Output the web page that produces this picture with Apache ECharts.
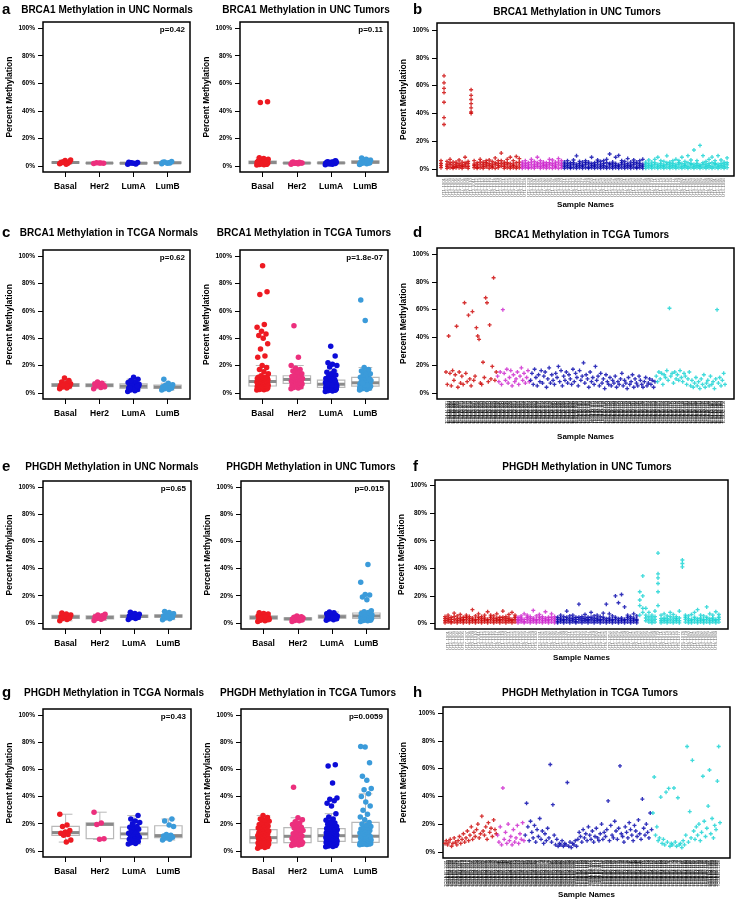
<!DOCTYPE html>
<html><head><meta charset="utf-8">
<script src="https://cdn.jsdelivr.net/npm/echarts@6/dist/echarts.min.js"></script>
<style>html,body{margin:0;padding:0;background:#fff}#c{width:738px;height:903px}</style>
</head><body><div id="c"></div>
<script>
const groups = ['Basal','Her2','LumA','LumB'];
const yTicks = [0,20,40,60,80,100];

// ---- a: BRCA1 UNC Normals
const aN_basal = [1.5,2.0,2.4,3.0,3.8,2.2,1.8,2.8,4.2,1.2,2.6];
const aN_her2  = [1.6,2.0,2.3,1.8,2.1];
const aN_lumA  = [1.2,1.6,2.0,2.4,1.8,2.6,1.4,2.2];
const aN_lumB  = [1.5,2.2,2.8,3.2,1.8,2.5,2.0];
// ---- a: BRCA1 UNC Tumors
const aT_basal = [0.5,0.8,1.0,1.2,1.4,1.5,1.6,1.8,2.0,2.1,2.2,2.3,2.4,2.5,2.7,2.9,3.1,3.3,3.5,3.8,4.2,4.8,5.3,5.8,1.1,1.7,2.6,3.0,46.0,46.6];
const aT_her2  = [1.2,1.5,1.8,2.0,2.2,2.4,2.6,1.9,2.1,1.6,2.8];
const aT_lumA  = [0.8,1.2,1.5,1.7,1.9,2.0,2.2,2.4,2.6,2.8,3.0,3.3,1.4,1.8,2.1,2.5,3.6];
const aT_lumB  = [1.0,1.5,1.8,2.0,2.3,2.6,3.0,3.4,4.0,4.8,5.6,2.2,2.8,1.3,3.8];
// ---- c: BRCA1 TCGA Normals
const cN_basal = [3.0,3.5,4.2,4.8,5.2,5.5,5.8,6.2,6.6,7.0,8.0,9.0,10.8,4.5,5.0,6.0];
const cN_her2  = [3.0,4.0,5.0,5.5,6.0,6.5,7.0,8.0,4.5];
const cN_lumA  = [1.0,1.5,2.0,2.5,3.0,3.5,4.0,4.5,5.0,5.5,6.0,6.5,7.0,7.5,8.0,9.0,10.0,11.5,3.2,4.2,5.2,6.2,2.8,3.8,4.8];
const cN_lumB  = [2.0,2.5,3.0,3.5,4.0,4.5,5.0,5.5,6.0,7.0,10.0,3.8];
// ---- c: BRCA1 TCGA Tumors
const cT_basal = [2,2.2,2.5,2.8,3,3.2,3.4,3.6,3.8,4,4.1,4.2,4.4,4.5,4.6,4.7,4.8,4.9,
  5,5.2,5.4,5.6,5.8,6,6.2,6.4,6.6,6.8,7,7.2,7.4,7.6,7.8,8,8,8.1,8.3,8.5,8.7,8.9,9.1,9.3,9.5,9.7,9.9,10.1,10.3,10.5,10.7,10.9,11,11.2,11.4,11.5,
  12.5,14,15.5,17,18.5,20,26,27,32,36,40,42,43,45,48,50,72,74,93];
const cT_her2  = [3,3.5,4,4.5,5,5.5,6,6.2,6.5,7,7.2,7.5,8,8.5,8.8,9,9.2,9.5,9.8,10,10.2,10.5,10.8,11,11.2,11.5,12,12.5,13,14,15,16,17,18,20,26,49];
const cT_lumA  = [1,1.3,1.6,1.9,2.1,2.3,2.5,2.7,2.9,3.1,3.3,3.5,3.7,3.8,3.9,
  4,4.2,4.4,4.6,4.8,5,5.2,5.4,5.6,5.8,6,6,6.2,6.4,6.6,6.8,7,7.2,7.4,7.6,7.8,8,8.2,8.4,8.6,8.8,9,4.5,5.5,6.5,
  9.5,10,10.5,11,12,13,14,15,16,19,20,21,22,27,34];
const cT_lumB  = [2,2.5,3,3.3,3.6,3.9,4.2,4.5,4.8,5.1,5.4,5.7,6,6.3,6.6,6.9,7.2,7.5,7.8,8.1,8.5,9,9.5,10,10.5,11,11.5,12,13,14,15,16,17,18.5,3.8,5.5,7,9.8,53,68];
// ---- e: PHGDH UNC Normals
const eN_basal = [1.5,2.5,3.2,3.8,4.2,4.5,4.8,5.2,5.8,6.5,7.2,3.5];
const eN_her2  = [1.8,2.6,3.2,3.8,4.2,4.6,5.2,5.8,6.4,3.0];
const eN_lumA  = [2.5,3.2,3.8,4.2,4.6,5.0,5.4,5.8,6.4,7.0,7.8,4.0,4.8];
const eN_lumB  = [2.4,3.0,3.6,4.2,4.6,5.0,5.4,6.0,6.8,7.6,8.4,4.4,5.2];
// ---- e: PHGDH UNC Tumors
const eT_basal = [1,1.5,2,2.3,2.6,2.9,3.2,3.5,3.8,4.1,4.4,4.7,5,5.3,5.6,6,6.5,7,7.5,3,4,2.5,4.6,3.6];
const eT_her2  = [1,1.5,1.8,2.1,2.4,2.7,3,3.3,3.6,3.9,4.2,4.5,5,2.8,3.4];
const eT_lumA  = [2,2.4,2.8,3.2,3.6,4,4.3,4.6,4.9,5.2,5.5,5.8,6.2,6.8,7.4,8,3,4.5,5,3.8];
const eT_lumB  = [1,1.5,1.8,2,2.2,2.5,2.8,3,3.2,3.4,3.6,3.8,4,4.2,4.4,4.6,4.8,5,5.2,5.4,5.6,5.8,6,6.2,6.4,6.6,7,7.6,8.2,9,17,19,20.5,21,30,43];
// ---- g: PHGDH TCGA Normals
const gN_basal = [27,19,18,15,14,13,12,11.5,8,6.5];
const gN_her2  = [28.5,20.6,19.5,9,8.5];
const gN_lumA  = [5,5.5,6,7,8,8.5,9,9.5,10,11,11.5,12,12.5,13,14,15,16,17,17.5,18,20,21,22,23.5,26];
const gN_lumB  = [8,8.5,9.5,10,10.5,11,11.5,12,18,19,22,23.5];
// ---- g: PHGDH TCGA Tumors
const gT_basal = [2,2.5,3,3.3,3.6,4,4.3,4.6,4.9,5.1,5.3,5.5,5.7,5.8,5.9,
  6,6.3,6.6,6.9,7.2,7.5,7.8,8.1,8.4,8.7,9,9.2,9.4,9.6,9.7,
  9.8,10.2,10.6,11,11.4,11.8,12.2,12.6,13,13.4,13.8,14.2,14.6,15,15.5,
  15.8,16.3,16.8,17.3,17.8,18.3,18.8,19.5,20.2,21,21.8,22.6,23.5,24.5,26];
const gT_her2  = [4,4.3,4.6,4.9,5.2,5.5,5.7,5.9,6.2,6.8,7.4,8,8.6,9.2,9.8,10.5,11,11.8,12.6,13.4,14.2,15,15.8,16.8,17.5,18.5,19.5,20.5,21.5,23,24.4,46.8];
const gT_lumA  = [3,3.3,3.6,3.9,4.2,4.5,4.8,5,5.2,5.4,5.6,5.8,6,6.1,6.2,6.4,6.5,6.6,6.8,6.9,
  7,7.2,7.4,7.6,7.8,8,8.2,8.4,8.6,8.8,9,9.2,9.4,9.6,9.8,10,10.3,10.6,10.9,11.1,
  11.3,11.5,11.7,12,12.3,12.6,12.9,13.2,13.5,13.8,14.1,14.4,14.7,15,15.3,15.6,15.9,16,16.1,16.2,
  16.5,17,17.5,18,18.8,19.6,20.5,21.5,22.5,23.5,25,27.4,33,35,37,38,39,50,62.5,63.5];
const gT_lumB  = [4.5,4.7,4.9,5,5.1,5.2,5.3,5.4,5.5,5.6,5.7,5.8,5.85,5.9,5.95,
  6.2,6.5,6.8,7.1,7.4,7.7,8,8.3,8.6,8.9,9.2,9.5,9.8,10.1,10.4,
  10.8,11.4,12,12.6,13.2,13.8,14.4,15,15.6,16.2,16.8,17.4,18,18.8,19.8,
  21,23,25,27,30,33,36,40,42,45,46,52,55,65,76.5,76.8];

// ---- b: BRCA1 UNC Tumors per sample (replicate values per sample)
const b_basal = [[1,2.5,4,6],[67,62,58,55,48,37,32],[0.5,2,3.5,5.5],[1,3,4.5,7],[0.5,1.5,3,5],[2,3.5,5,1],[1,2.5,4,6.5],[0.5,2,3,5],[1.5,3,4.5,8.5],[0.5,2,4,5.5],
  [57,53,50,47,44,41,40],[1,2.5,3.5,6],[0.5,1.5,3,4.5],[1,3,5,7],[0.5,2,3.5,5],[1.5,3,4.5,6],[0.5,2.5,4,6.5],[1,2,3.5,5.5],[0.5,3,4.5,8],[1,2.5,4,6],
  [2,4,6,11.5],[0.5,2,3.5,5],[1,3,4.5,7],[0.5,2,4,8.5],[1,2.5,3.5,6],[0.5,2,4.5,9],[1,3,5,7.5]];
const b_her2 = [[0.5,2,3.5,5],[1,2.5,4,6],[0.5,1.5,3,4.5],[1,3,5,7],[0.5,2,3.5,5.5],[1.5,3,4.5,8.5],[0.5,2,4,6],[1,2.5,3.5,5],[0.5,2,3,4.5],[1,3,4.5,7],[0.5,2.5,4,6.5],[1,2,3.5,5],[0.5,3,5,7.5],[1,2.5,4,6]];
const b_lumA = [[0.5,2,3.5,5],[1,2.5,4,6],[0.5,1.5,3,4.5],[1,3,4.5,6.5],[0.5,2,3.5,9.5],[1,2.5,4,5.5],[0.5,2,3,5],[1,3,4.5,6],[0.5,1.5,3.5,5],[1,2.5,4,8.5],
  [0.5,2,3,4.5],[1,3,5,6.5],[0.5,2,3.5,5.5],[1,2.5,4,6],[0.5,2,4.5,7],[1,3,4,10.8],[0.5,2,3.5,5],[1,2.5,4,8.5],[0.5,2,3,9.8],[1,3,4.5,6],
  [0.5,2,3.5,5.5],[1,2.5,4,7.5],[0.5,2,3,5],[1,3,4.5,6.5],[0.5,1.5,3.5,5],[1,2.5,4,6],[0.5,2,3.5,7]];
const b_lumB = [[0.5,2,3.5,5],[1,2.5,4,6.5],[0.5,2,3,5],[1,3,4.5,7],[0.5,2,3.5,8.5],[1,2.5,4,6],[0.5,2,3,5.5],[1,3,4.5,9.5],[0.5,2,3.5,5],[1,2.5,4,6],
  [0.5,2,3.5,7],[1,3,4.5,6],[0.5,2,4,8.5],[1,2.5,3.5,5.5],[0.5,2,4.5,9.6],[1,3,4,6.5],[0.5,2,3.5,13.7],[1,2.5,4,6],[0.5,2,3,17],[1,3,4.5,9.6],
  [0.5,2,3.5,5.5],[1,2.5,4,7],[0.5,2,4.5,8.6],[1,3,4,6],[0.5,2,3.5,9.6],[1,2.5,4,6.5],[0.5,2,3.5,5],[1,3,4.5,8]];

// ---- d: BRCA1 TCGA Tumors per sample
const d_basal = [15,6,41,14,5,16,9,13,48,4,15,7,12,6,65,14,8,56,10,5,58.6,9,12,47,41,38.6,7,6,22,11,68.6,65,8,49,10,19,83,9,15];
const d_her2  = [12,8,15,6,60,14,9,17,7,11,16,5,13,8,10,15,6,12,18,9,14,7,11,16,8];
const d_lumA  = [9,14,6,17,11,5,13,8,16,7, 12,15,4,10,18,7,13,9,6,14, 11,19,8,16,5,12,9,15,7,13, 10,6,17,8,14,11,5,16,9,12,
  21.6,7,13,10,4,15,8,11,6,19, 9,12,5,14,7,10,3,13,8,6, 11,5,9,7,12,4,8,6,10,14, 5,9,7,3,11,6,8,13,4,10, 7,5,12,9,6,4,8,11,5,7, 10,6,9,4,8];
const d_lumB  = [12,8,15,10,14,6,13,11,16,9, 61,12,14,7,15,10,13,9,16,11, 8,14,12,6,10,15,5,9,4,7, 11,5,8,3,10,6,13,4,7,9, 5,12,6,8,3,10,60,7,11,5, 9,14,6];

// ---- f: PHGDH UNC Tumors per sample
const f_basal = [[0.5,2,3.5,5],[1,2.5,4,6],[0.5,1.5,3,4.5],[1,3,5,7.5],[0.5,2,3.5,5.5],[1,2.5,4,6.5],[0.5,2,3,4.5],[1,3,4.5,6],[0.5,2,3.5,5],[1,2.5,4,10],
  [0.5,2,3,5.5],[1,3,4.5,7],[0.5,2,3.5,5],[1,2.5,4,6],[0.5,2,3,8.5],[1,3,4.5,6],[0.5,2,3.5,5.5],[1,2.5,4,7],[0.5,2,3,4.5],[1,3,4.5,9],
  [0.5,2,3.5,5],[1,2.5,4,6.5],[0.5,2,3,8],[1,3,4.5,6]];
const f_her2 = [[0.5,2,3,4.5],[1,2.5,4,5.5],[0.5,1.5,3,7],[1,3,4.5,6],[0.5,2,3.5,5],[1,2.5,4,9.5],[0.5,2,3,5.5],[1,3,4.5,6.5],[0.5,2,3.5,5],[1,2.5,4,8.5],[0.5,2,3,4.5],[1,3,4.5,7],[0.5,2,3.5,5]];
const f_lumA = [[0.5,1.5,3,4.5],[1,2.5,4,6],[0.5,2,3,5],[1,3,4.5,9],[0.5,2,3.5,5.5],[1,2.5,4,6],[0.5,1.5,3,4.5],[1,3,4.5,14],[0.5,2,3.5,5],[1,2.5,4,6.5],
  [0.5,2,3,4.5],[1,3,4.5,8],[0.5,2,3.5,5.5],[1,2.5,4,6],[0.5,2,3,5],[1,3,4.5,7.5],[0.5,2,3.5,14],[1,2.5,4,7],[0.5,2,3,5.5],[1,3,4.5,20],
  [0.5,2,3.5,15],[1,2.5,4,21],[0.5,2,3,12],[1,3,4.5,6],[0.5,2,3.5,5],[1,2.5,4,7],[0.5,2,3,5.5]];
const f_lumB = [[6,13,17,23],[8,11,20,34.5],[2,4,6,11],[1,3,5,8],[0.5,2,4,6],[1,3,5,9],[13,23,29,33,36,51],[0.5,2,3.5,6],[1,2.5,4,7],[0.5,2,3.5,5.5],
  [1,3,5,8],[0.5,2,4,6.5],[1,2.5,3.5,5],[0.5,2,4,9],[41,43.5,46],[1,3,4.5,6],[0.5,2,3.5,5.5],[0.5,2,3,6.5],[1,3,4.5,8],[0.5,2,3.5,10],
  [1,2.5,4,6],[0.5,2,3,5.5],[1,3,4.5,12],[0.5,2,3.5,7],[1,2.5,4,6],[0.5,2,3,8.5],[1,3,4.5,6.5]];

// ---- h: PHGDH TCGA Tumors per sample
const h_basal = [6,8,5,7,9,4,6,10,7,5, 8,11,6,9,13,7,10,15,8,12, 18,9,14,11,16,20,10,13,25.7,15, 12,18,9,21,14,17,11,23,16,13];
const h_her2  = [12,7,18,5,46,9,14,6,20,8,11,5,16,7,10,19,6,13,9,21,8];
const h_lumA  = [12,35,18,8,22,14,10,19,7,16, 11,24,9,15,6,13,8,17,10,63, 7,34,12,5,9,4,6,5,8,4, 6,5,50,4,7,3,6,5,8,4,
  9,14,11,7,16,10,13,8,18,12, 9,15,7,11,17,10,8,13,20,9, 14,11,16,36.7,8,19,12,10,22,15, 9,17,62,13,11,7,18,14,10,21,
  16,12,8,19,15,11,23,13,9,38, 17,12,20,14,10,28,16];
const h_lumB  = [28,54,12,18,8,10,39.5,6,9,5, 43,7,45.7,4,6,5,46,7,4,39, 5,6,3,8,5,12,76,7,29,10, 66,15,9,18,12,20,8,14,54.5,22,
  11,17,33,59,13,24,10,19,16,51, 76,21];

// ================= rendering =================
const FONT = "'Liberation Sans', Arial, Helvetica, sans-serif";
const boxColors = ['#ee1a22','#ec2f7d','#0c0cd8','#3b9bda'];
const sampColors = ['#cc0000','#cc20cc','#0000aa','#12d2d2'];
const PLUS = 'path://M1,0H2V1H3V2H2V3H1V2H0V1H1Z';
const jit = i => ((((i * 0.6180339887) % 1) - 0.5) * 0.34);

function fivenum(arr){
  const x = arr.slice().sort((a,b)=>a-b), n = x.length;
  const n4 = Math.floor((n+3)/2)/2;
  return [1, n4, (n+1)/2, n+1-n4, n].map(v => 0.5*(x[Math.floor(v)-1] + x[Math.ceil(v)-1]));
}
function boxStats(arr){
  const f = fivenum(arr), iqr = f[3]-f[1];
  const hi = f[3] + 1.5*iqr, lo = f[1] - 1.5*iqr;
  const inside = arr.filter(v => v >= lo && v <= hi);
  return [Math.min(...inside), f[1], f[2], f[3], Math.max(...inside)];
}
function boxRender(params, api){
  const x = api.value(0), mn = api.value(1), q1 = api.value(2), md = api.value(3), q3 = api.value(4), mx = api.value(5);
  const hw = 0.4, cw = 0.2, p = (a,b) => api.coord([a,b]);
  const tl = p(x-hw,q3), br = p(x+hw,q1), ml = p(x-hw,md), mr = p(x+hw,md);
  const top = p(x,mx), bot = p(x,mn), qt = p(x,q3), qb = p(x,q1);
  const c1 = p(x-cw,mx), c2 = p(x+cw,mx), c3 = p(x-cw,mn), c4 = p(x+cw,mn);
  const ls = {stroke:'#b8b8b8', lineWidth:1, fill:null};
  const L = (a,b,s) => ({type:'line', shape:{x1:a[0],y1:a[1],x2:b[0],y2:b[1]}, style:s});
  return {type:'group', children:[
    L(top,qt,ls), L(bot,qb,ls), L(c1,c2,ls), L(c3,c4,ls),
    {type:'rect', shape:{x:tl[0], y:tl[1], width:br[0]-tl[0], height:br[1]-tl[1]}, style:{stroke:'#b8b8b8', lineWidth:1.2, fill:'rgba(255,255,255,0)'}},
    L(ml,mr,{stroke:'#8a8a8a', lineWidth:3})
  ]};
}

const boxPanels = [
  {g:[43,22,147,150],  d:[aN_basal,aN_her2,aN_lumA,aN_lumB], p:'p=0.42', ng:28},
  {g:[240,22,148,150], d:[aT_basal,aT_her2,aT_lumA,aT_lumB], p:'p=0.11', ng:27},
  {g:[43,250,147,149], d:[cN_basal,cN_her2,cN_lumA,cN_lumB], p:'p=0.62', ng:28},
  {g:[240,250,148,149],d:[cT_basal,cT_her2,cT_lumA,cT_lumB], p:'p=1.8e-07', ng:27},
  {g:[43,481,148,148], d:[eN_basal,eN_her2,eN_lumA,eN_lumB], p:'p=0.65', ng:29},
  {g:[241,481,148,148],d:[eT_basal,eT_her2,eT_lumA,eT_lumB], p:'p=0.015', ng:23},
  {g:[43,709,148,148], d:[gN_basal,gN_her2,gN_lumA,gN_lumB], p:'p=0.43', ng:25},
  {g:[241,709,147,148],d:[gT_basal,gT_her2,gT_lumA,gT_lumB], p:'p=0.0059', ng:27}
];
const samplePanels = [
  {g:[437,23,297,153],  d:[b_basal,b_her2,b_lumA,b_lumB], pad:[1.33,2.3], yr:[-5,105], pre:'UT', lc:'#6e6e6e', ls:4.3, ng:29, xng:22},
  {g:[437,248,297,151], d:[d_basal,d_her2,d_lumA,d_lumB], pad:[6.8,6.8], yr:[-4.5,104.5], pre:'TCGA-A', lc:'#000', ls:3.3, ng:29, xng:34},
  {g:[435,480,293,149], d:[f_basal,f_her2,f_lumA,f_lumB], pad:[3.3,3], yr:[-4,104], pre:'UT', lc:'#6e6e6e', ls:4.3, ng:28, xng:22},
  {g:[443,707,287,151], d:[h_basal,h_her2,h_lumA,h_lumB], pad:[1.5,7.6], yr:[-4.5,104.5], pre:'TCGA-B', lc:'#000', ls:3.9, ng:35, xng:31}
];

const grid=[], xAxis=[], yAxis=[], series=[], graphic=[];
function yAx(k, mn, mx, ng){
  return {type:'value', gridIndex:k, min:mn, max:mx,
    name:'Percent Methylation', nameLocation:'middle', nameGap:ng,
    nameTextStyle:{fontFamily:FONT, fontWeight:'bold', fontSize:8.5, color:'#000'},
    splitLine:{show:false}, axisLine:{show:false, onZero:false},
    axisTick:{show:true, customValues:yTicks, length:5, lineStyle:{color:'#000', width:1}},
    axisLabel:{customValues:yTicks, formatter:v => v+'%', fontFamily:FONT, fontWeight:'bold', fontSize:6.5, color:'#000', margin:8}};
}
function gridOf(g){ return {left:g[0], top:g[1], width:g[2], height:g[3], show:true, borderColor:'#000', borderWidth:1.5, backgroundColor:'rgba(0,0,0,0)'}; }

boxPanels.forEach((P,k) => {
  grid.push(gridOf(P.g));
  xAxis.push({type:'value', gridIndex:k, min:0.34, max:4.66, splitLine:{show:false}, axisLine:{show:false, onZero:false},
    axisTick:{show:true, customValues:[1,2,3,4], length:5, lineStyle:{color:'#000', width:1}},
    axisLabel:{customValues:[1,2,3,4], formatter:v => groups[Math.round(v)-1], fontFamily:FONT, fontWeight:'bold', fontSize:8.5, color:'#000', margin:10}});
  yAxis.push(yAx(k, -4.5, 104.5, P.ng));
  series.push({type:'custom', xAxisIndex:k, yAxisIndex:k, renderItem:boxRender, silent:true, z:2,
    data:P.d.map((arr,g) => [g+1, ...boxStats(arr)]), encode:{x:0, y:[1,2,3,4,5]}});
  P.d.forEach((arr,g) => series.push({type:'scatter', xAxisIndex:k, yAxisIndex:k, silent:true, z:3,
    symbol:'circle', symbolSize:5.5, itemStyle:{color:boxColors[g], opacity:1},
    data:arr.map((v,i) => [g+1+jit(i), v])}));
  graphic.push({type:'text', x:P.g[0]+P.g[2]-5, y:P.g[1]+8,
    style:{text:P.p, font:'bold 8px '+FONT, fill:'#000', align:'right', verticalAlign:'middle', textAlign:'right', textVerticalAlign:'middle'}});
});

samplePanels.forEach((P,j) => {
  const k = 8 + j;
  let idx = 0;
  const groupData = P.d.map(grp => {
    const data = [];
    grp.forEach(s => { (Array.isArray(s) ? s : [s]).forEach(v => data.push([idx, v])); idx++; });
    return data;
  });
  const N = idx;
  const names = Array.from({length:N}, (_,i) => P.pre + (i%9) + '-' + (1000 + i));
  const ticks = Array.from({length:N}, (_,i) => i);
  grid.push(gridOf(P.g));
  xAxis.push({type:'value', gridIndex:k, min:-P.pad[0], max:N-1+P.pad[1], splitLine:{show:false}, axisLine:{show:false, onZero:false},
    axisTick:{show:false},
    name:'Sample Names', nameLocation:'middle', nameGap:P.xng,
    nameTextStyle:{fontFamily:FONT, fontWeight:'bold', fontSize:8, color:'#000'},
    axisLabel:{customValues:ticks, formatter:v => names[Math.round(v)], rotate:90, fontFamily:FONT, fontSize:P.ls, color:P.lc, margin:2, hideOverlap:false}});
  yAxis.push(yAx(k, P.yr[0], P.yr[1], P.ng));
  groupData.forEach((data,g) => series.push({type:'scatter', xAxisIndex:k, yAxisIndex:k, silent:true, z:3,
    symbol:PLUS, symbolSize:4, itemStyle:{color:sampColors[g]}, data}));
});

const letters = [['a',2,10],['b',413,10],['c',2,233],['d',413,233],['e',2,467],['f',413,467],['g',2,693],['h',413,693]];
letters.forEach(L => graphic.push({type:'text', x:L[1], y:L[2],
  style:{text:L[0], font:'bold 15px '+FONT, fill:'#000', align:'left', verticalAlign:'middle', textAlign:'left', textVerticalAlign:'middle'}}));
const titles = [
  ['BRCA1 Methylation in UNC Normals',107,10], ['BRCA1 Methylation in UNC Tumors',306,10], ['BRCA1 Methylation in UNC Tumors',577,12],
  ['BRCA1 Methylation in TCGA Normals',109,233], ['BRCA1 Methylation in TCGA Tumors',304,233], ['BRCA1 Methylation in TCGA Tumors',582,235],
  ['PHGDH Methylation in UNC Normals',112,467], ['PHGDH Methylation in UNC Tumors',311,467], ['PHGDH Methylation in UNC Tumors',587,467],
  ['PHGDH Methylation in TCGA Normals',114,693], ['PHGDH Methylation in TCGA Tumors',308,693], ['PHGDH Methylation in TCGA Tumors',590,693]
];
titles.forEach(T => graphic.push({type:'text', x:T[1], y:T[2],
  style:{text:T[0], font:'bold 10px '+FONT, fill:'#000', align:'center', verticalAlign:'middle', textAlign:'center', textVerticalAlign:'middle'}}));

const chart = echarts.init(document.getElementById('c'), null, {renderer:'canvas'});
chart.setOption({animation:false, backgroundColor:'#fff', grid, xAxis, yAxis, series, graphic});
</script>
</body></html>
